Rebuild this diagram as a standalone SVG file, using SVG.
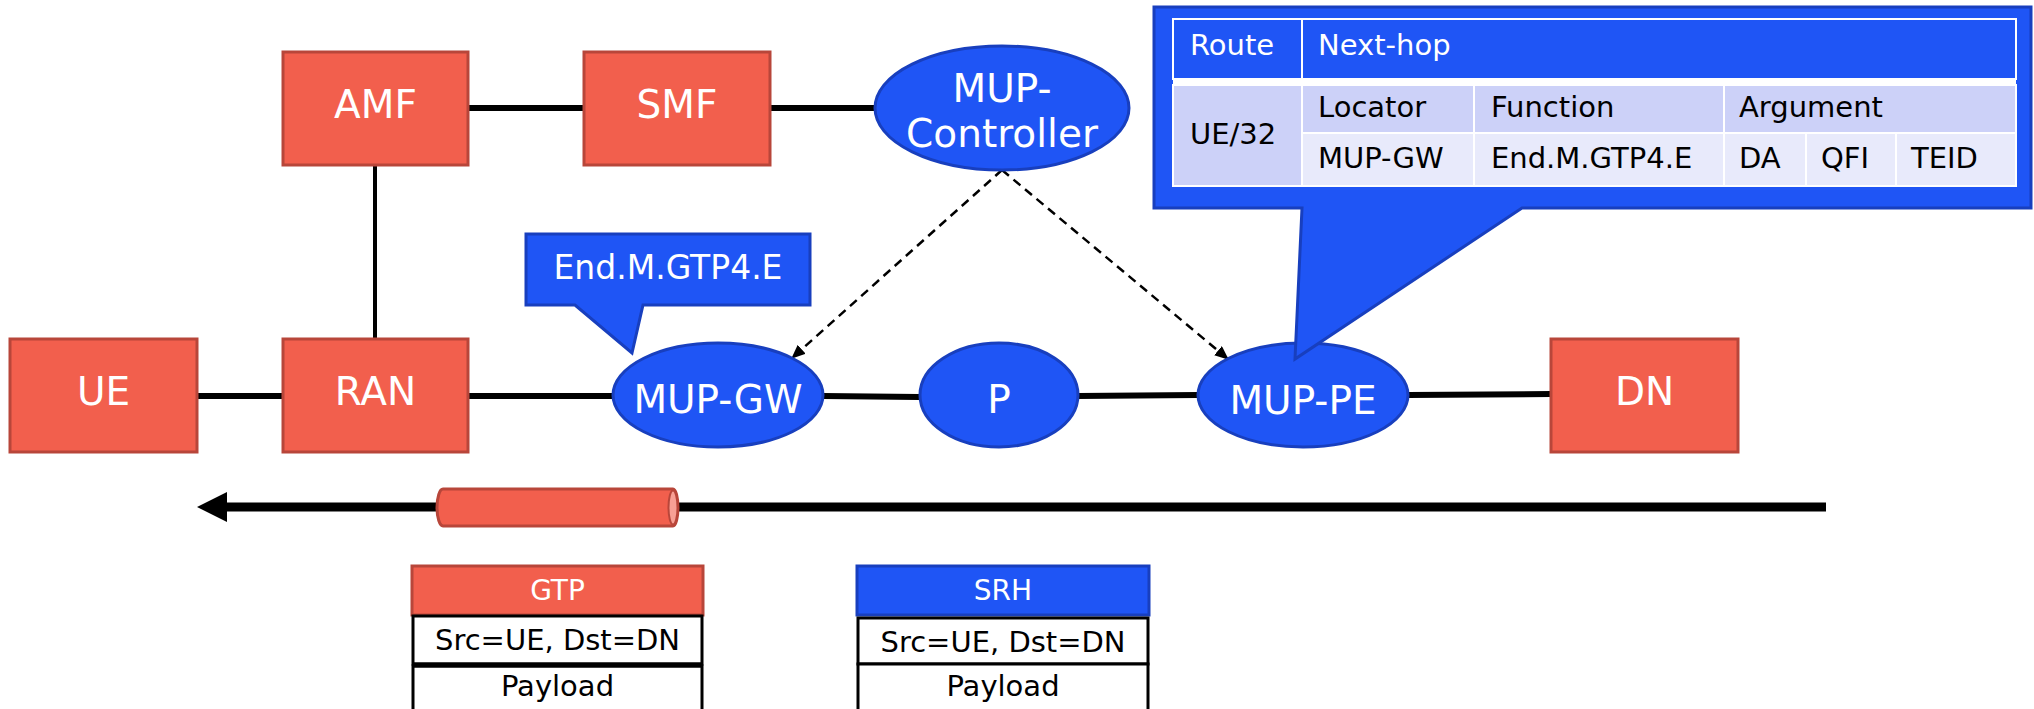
<svg xmlns="http://www.w3.org/2000/svg" width="2034" height="709" viewBox="0 0 2034 709">
<defs>
<style>
.red{fill:#F25F4D;stroke:#B8463A;stroke-width:3}
.blue{fill:#1F55F5;stroke:#183FBE;stroke-width:3}
.lbl{font-family:"DejaVu Sans","Verdana",sans-serif;font-size:39px;fill:#fff;text-anchor:middle}
.conn{stroke:#000;stroke-width:6;fill:none}
.dash{stroke:#000;stroke-width:2.5;fill:none;stroke-dasharray:9 6}
.tt{font-family:"DejaVu Sans","Verdana",sans-serif;font-size:29px}
.cell{stroke:#fff;stroke-width:2}
.pk{fill:#fff;stroke:#000;stroke-width:3}
.ptxt{font-family:"DejaVu Sans","Verdana",sans-serif;font-size:29px;fill:#000;text-anchor:middle}
</style>
<marker id="ah" markerUnits="userSpaceOnUse" markerWidth="14" markerHeight="12" refX="13" refY="6" orient="auto">
<path d="M0,0 L14,6 L0,12 Z" fill="#000"/>
</marker>
</defs>
<rect width="2034" height="709" fill="#fff"/>

<g id="connectors">
<line class="conn" x1="469" y1="108" x2="583" y2="108"/>
<line class="conn" x1="770" y1="108" x2="874" y2="108"/>
<line class="conn" x1="375" y1="166" x2="375" y2="338" style="stroke-width:4"/>
<line class="conn" x1="198" y1="396" x2="282" y2="396"/>
<line class="conn" x1="469" y1="396" x2="613" y2="396"/>
<line class="conn" x1="823" y1="396" x2="919" y2="397"/>
<line class="conn" x1="1078" y1="396" x2="1198" y2="395"/>
<line class="conn" x1="1408" y1="395" x2="1551" y2="394"/>
<line class="dash" x1="1002" y1="170" x2="792" y2="358" marker-end="url(#ah)"/>
<line class="dash" x1="1002" y1="170" x2="1228" y2="359" marker-end="url(#ah)"/>
</g>

<g id="AMF"><rect class="red" x="283" y="52" width="185" height="113"/><text class="lbl" x="375.5" y="118">AMF</text></g>
<g id="SMF"><rect class="red" x="584" y="52" width="186" height="113"/><text class="lbl" x="677" y="118">SMF</text></g>
<g id="MUP-Controller"><ellipse class="blue" cx="1002" cy="108" rx="127" ry="62"/><text class="lbl" x="1002" y="102">MUP-</text><text class="lbl" x="1002" y="147">Controller</text></g>
<g id="UE"><rect class="red" x="10" y="339" width="187" height="113"/><text class="lbl" x="103.5" y="405">UE</text></g>
<g id="RAN"><rect class="red" x="283" y="339" width="185" height="113"/><text class="lbl" x="375.5" y="405">RAN</text></g>
<g id="MUP-GW"><ellipse class="blue" cx="718" cy="395" rx="105" ry="52"/><text class="lbl" x="718" y="413">MUP-GW</text></g>
<g id="P"><ellipse class="blue" cx="999" cy="395" rx="79" ry="52"/><text class="lbl" x="999" y="413">P</text></g>
<g id="MUP-PE"><ellipse class="blue" cx="1303" cy="395" rx="105" ry="52"/><text class="lbl" x="1303" y="414">MUP-PE</text></g>
<g id="DN"><rect class="red" x="1551" y="339" width="187" height="113"/><text class="lbl" x="1644.5" y="405">DN</text></g>

<g id="callout-gw">
<path class="blue" d="M526,234 H810 V305 H643 L632,353 L575,305 H526 Z"/>
<text class="lbl" x="668" y="279" style="font-size:33px">End.M.GTP4.E</text>
</g>

<g id="callout-table">
<path class="blue" d="M1154,7 H2031 V208 H1522 L1295,359 L1302,208 H1154 Z"/>
<rect x="1173" y="19" width="843" height="167" fill="#fff"/>
<rect class="cell" x="1173" y="19" width="129" height="60" fill="#1F55F5"/>
<rect class="cell" x="1302" y="19" width="714" height="60" fill="#1F55F5"/>
<rect class="cell" x="1173" y="85" width="129" height="101" fill="#CCD1F8"/>
<rect class="cell" x="1302" y="85" width="172" height="48" fill="#CCD1F8"/>
<rect class="cell" x="1474" y="85" width="250" height="48" fill="#CCD1F8"/>
<rect class="cell" x="1724" y="85" width="292" height="48" fill="#CCD1F8"/>
<rect class="cell" x="1302" y="133" width="172" height="53" fill="#E8EAFB"/>
<rect class="cell" x="1474" y="133" width="250" height="53" fill="#E8EAFB"/>
<rect class="cell" x="1724" y="133" width="82" height="53" fill="#E8EAFB"/>
<rect class="cell" x="1806" y="133" width="90" height="53" fill="#E8EAFB"/>
<rect class="cell" x="1896" y="133" width="120" height="53" fill="#E8EAFB"/>
<text class="tt" x="1190" y="55" fill="#fff">Route</text>
<text class="tt" x="1318" y="55" fill="#fff">Next-hop</text>
<text class="tt" x="1190" y="144" fill="#000">UE/32</text>
<text class="tt" x="1318" y="117" fill="#000">Locator</text>
<text class="tt" x="1491" y="117" fill="#000">Function</text>
<text class="tt" x="1739" y="117" fill="#000">Argument</text>
<text class="tt" x="1318" y="168" fill="#000">MUP-GW</text>
<text class="tt" x="1491" y="168" fill="#000">End.M.GTP4.E</text>
<text class="tt" x="1739" y="168" fill="#000">DA</text>
<text class="tt" x="1821" y="168" fill="#000">QFI</text>
<text class="tt" x="1911" y="168" fill="#000">TEID</text>
</g>

<g id="flow">
<line x1="1826" y1="507" x2="224" y2="507" stroke="#000" stroke-width="9"/>
<polygon points="197,507 227,492 227,522" fill="#000"/>
<path d="M443,489 H673 A5,18.5 0 0 1 673,526 H443 A6,18.5 0 0 1 443,489 Z" fill="#F25F4D" stroke="#B8463A" stroke-width="3"/>
<ellipse cx="673" cy="507.5" rx="4.5" ry="17" fill="#F8A095" stroke="#B8463A" stroke-width="2"/>
</g>

<g id="gtp-packet">
<rect class="red" x="412" y="566" width="291" height="49"/>
<text class="lbl" x="557.5" y="600" style="font-size:28px">GTP</text>
<rect class="pk" x="413" y="616" width="289" height="48"/>
<rect class="pk" x="413" y="666" width="289" height="60"/>
<line x1="413" y1="665" x2="702" y2="665" stroke="#000" stroke-width="5"/>
<text class="ptxt" x="557.5" y="650">Src=UE, Dst=DN</text>
<text class="ptxt" x="557.5" y="696">Payload</text>
</g>

<g id="srh-packet">
<rect class="blue" x="857" y="566" width="292" height="49"/>
<text class="lbl" x="1003" y="600" style="font-size:28px">SRH</text>
<rect class="pk" x="858" y="618" width="290" height="46"/>
<rect class="pk" x="858" y="664" width="290" height="62"/>
<text class="ptxt" x="1003" y="652">Src=UE, Dst=DN</text>
<text class="ptxt" x="1003" y="696">Payload</text>
</g>
</svg>
